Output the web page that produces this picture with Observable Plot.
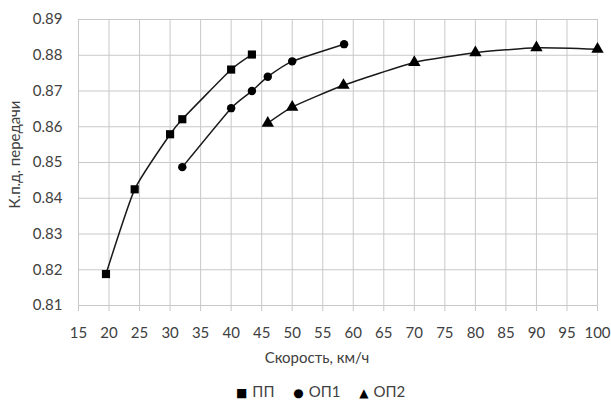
<!DOCTYPE html>
<html>
<head>
<meta charset="utf-8">
<script src="https://cdn.jsdelivr.net/npm/d3@7"></script>
<script src="https://cdn.jsdelivr.net/npm/@observablehq/plot@0.6"></script>
<style>
  html, body { margin: 0; padding: 0; background: #fff; }
  body { width: 611px; height: 401px; overflow: hidden; font-family: Lato, "Open Sans", sans-serif; }
  #legend { position: relative; width: 611px; height: 29px; font-size: 15px; color: #404040; }
  #legend .inner { position: absolute; left: 236px; top: 10px; white-space: nowrap; }
  #legend span.item { margin-right: 15px; }
  #legend span.sym { color: #000; font-size: 12px; margin-right: 5px; font-family: "DejaVu Sans", sans-serif; }
</style>
</head>
<body>
<div id="chart"></div>
<div id="legend"><div class="inner">
  <span class="item"><span class="sym">■</span>ПП</span>
  <span class="item"><span class="sym">●</span>ОП1</span>
  <span class="item"><span class="sym">▲</span>ОП2</span>
</div></div>
<script>
const seriesNames = ["ПП", "ОП1", "ОП2"];
const ppX  = [19.5, 24.2, 30, 32, 40, 43.4];
const ppY  = [0.8188, 0.8425, 0.8579, 0.8621, 0.876, 0.8802];
const op1X = [32, 40, 43.4, 46, 50, 58.5];
const op1Y = [0.8487, 0.8652, 0.870, 0.874, 0.8783, 0.8831];
const op2X = [46, 50, 58.4, 70, 80, 90, 100];
const op2Y = [0.861, 0.8655, 0.8716, 0.878, 0.8807, 0.8821, 0.8817];
const xTicks = [15,20,25,30,35,40,45,50,55,60,65,70,75,80,85,90,95,100];
const yTicks = [0.81,0.82,0.83,0.84,0.85,0.86,0.87,0.88,0.89];
const xLabel = "Скорость, км/ч";
const yLabel = "К.п.д. передачи";

const toRows = (xs, ys, s) => xs.map((x, i) => ({x, y: ys[i], s}));
const pp = toRows(ppX, ppY, seriesNames[0]);
const op1 = toRows(op1X, op1Y, seriesNames[1]);
const op2 = toRows(op2X, op2Y, seriesNames[2]);

const lineStyle = {x: "x", y: "y", curve: "cardinal", tension: 0.45, stroke: "#1a1a1a", strokeWidth: 1.5};

const chart = Plot.plot({
  width: 611,
  height: 372,
  marginLeft: 78,
  marginRight: 14,
  marginTop: 19,
  marginBottom: 67,
  style: {fontFamily: "Lato, 'Open Sans', sans-serif", fontSize: "15px", color: "#404040", background: "#fff"},
  x: {domain: [15, 100]},
  y: {domain: [0.81, 0.89]},
  marks: [
    Plot.gridX(xTicks, {stroke: "#c8c8c8", strokeOpacity: 1, strokeWidth: 1}),
    Plot.gridY(yTicks, {stroke: "#c8c8c8", strokeOpacity: 1, strokeWidth: 1}),
    Plot.axisX(xTicks, {tickSize: 6, tickPadding: 16, stroke: "#c8c8c8", fill: "#404040", label: null, tickFormat: d => String(d)}),
    Plot.axisY(yTicks, {tickSize: 0, tickPadding: 16, fill: "#404040", label: null, tickFormat: d3.format(".2f")}),
    Plot.text([xLabel], {frameAnchor: "bottom", dy: 53, dx: -21, lineAnchor: "middle", text: d => d, fill: "#404040", fontSize: 15}),
    Plot.text([yLabel], {frameAnchor: "left", textAnchor: "middle", lineAnchor: "middle", dx: -63, dy: -8, rotate: -90, text: d => d, fill: "#404040", fontSize: 15}),
    Plot.line(pp, lineStyle),
    Plot.line(op1, lineStyle),
    Plot.line(op2, lineStyle),
    Plot.dot(pp, {x: "x", y: "y", symbol: "square", r: 4.6, fill: "#000", stroke: "none"}),
    Plot.dot(op1, {x: "x", y: "y", symbol: "circle", r: 4.2, fill: "#000", stroke: "none"}),
    Plot.dot(op2, {x: "x", y: "y", symbol: "triangle", r: 4.6, fill: "#000", stroke: "none"})
  ]
});
document.getElementById("chart").appendChild(chart);
</script>
</body>
</html>
